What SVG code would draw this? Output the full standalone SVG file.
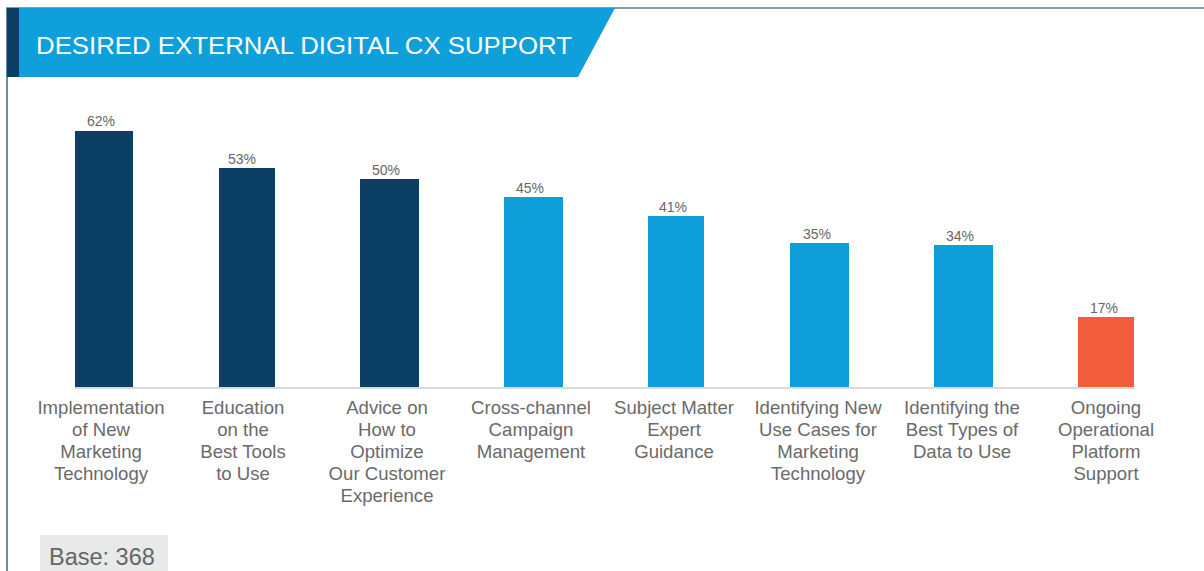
<svg xmlns="http://www.w3.org/2000/svg" width="1204" height="571" viewBox="0 0 1204 571">
<style>
.dark{fill:#0b3f63}
.light{fill:#0e9fdb}
.orange{fill:#f15d3d}
.val{font-family:"Liberation Sans",Arial,sans-serif;font-size:14px;fill:#666666;text-anchor:middle}
.cat{font-family:"Liberation Sans",Arial,sans-serif;font-size:18.6px;fill:#6a6a6a;text-anchor:middle}
</style>
<rect x="0" y="0" width="1204" height="571" fill="#ffffff"/>
<g id="frame">
<line x1="6" y1="8" x2="1204" y2="8" stroke="#5b7a96" stroke-width="1.5"/>
<line x1="7" y1="8" x2="7" y2="571" stroke="#3d6689" stroke-width="1.5"/>
</g>
<g id="header">
<rect x="7" y="8" width="12" height="69" fill="#0b3f63"/>
<polygon points="19,8 615,8 578,77 19,77" fill="#0f9fdb"/>
<text x="36" y="54" font-family="'Liberation Sans',Arial,sans-serif" font-size="24" fill="#ffffff" textLength="536" lengthAdjust="spacingAndGlyphs">DESIRED EXTERNAL DIGITAL CX SUPPORT</text>
</g>
<line id="axis" x1="75" y1="388" x2="1135" y2="388" stroke="#d9d9d9" stroke-width="2"/>
<g id="bar1"><rect class="dark" x="75" y="131" width="58" height="256"/><text class="val" x="101" y="126">62%</text>
<text class="cat" x="101" y="414">Implementation</text><text class="cat" x="101" y="436">of New</text><text class="cat" x="101" y="458">Marketing</text><text class="cat" x="101" y="480">Technology</text></g>
<g id="bar2"><rect class="dark" x="219" y="168" width="56" height="219"/><text class="val" x="242" y="164">53%</text>
<text class="cat" x="243" y="414">Education</text><text class="cat" x="243" y="436">on the</text><text class="cat" x="243" y="458">Best Tools</text><text class="cat" x="243" y="480">to Use</text></g>
<g id="bar3"><rect class="dark" x="360" y="179" width="59" height="208"/><text class="val" x="386" y="175">50%</text>
<text class="cat" x="387" y="414">Advice on</text><text class="cat" x="387" y="436">How to</text><text class="cat" x="387" y="458">Optimize</text><text class="cat" x="387" y="480">Our Customer</text><text class="cat" x="387" y="502">Experience</text></g>
<g id="bar4"><rect class="light" x="504" y="197" width="59" height="190"/><text class="val" x="530" y="193">45%</text>
<text class="cat" x="531" y="414">Cross-channel</text><text class="cat" x="531" y="436">Campaign</text><text class="cat" x="531" y="458">Management</text></g>
<g id="bar5"><rect class="light" x="648" y="216" width="56" height="171"/><text class="val" x="673" y="212">41%</text>
<text class="cat" x="674" y="414">Subject Matter</text><text class="cat" x="674" y="436">Expert</text><text class="cat" x="674" y="458">Guidance</text></g>
<g id="bar6"><rect class="light" x="790" y="243" width="59" height="144"/><text class="val" x="817" y="239">35%</text>
<text class="cat" x="818" y="414">Identifying New</text><text class="cat" x="818" y="436">Use Cases for</text><text class="cat" x="818" y="458">Marketing</text><text class="cat" x="818" y="480">Technology</text></g>
<g id="bar7"><rect class="light" x="934" y="245" width="59" height="142"/><text class="val" x="960" y="241">34%</text>
<text class="cat" x="962" y="414">Identifying the</text><text class="cat" x="962" y="436">Best Types of</text><text class="cat" x="962" y="458">Data to Use</text></g>
<g id="bar8"><rect class="orange" x="1078" y="317" width="56" height="70"/><text class="val" x="1104" y="313">17%</text>
<text class="cat" x="1106" y="414">Ongoing</text><text class="cat" x="1106" y="436">Operational</text><text class="cat" x="1106" y="458">Platform</text><text class="cat" x="1106" y="480">Support</text></g>
<g id="base"><rect x="40" y="535" width="128" height="36" fill="#e8e9e9"/>
<text x="49" y="565" font-family="'Liberation Sans',Arial,sans-serif" font-size="23.5" fill="#666666">Base: 368</text></g>
</svg>
